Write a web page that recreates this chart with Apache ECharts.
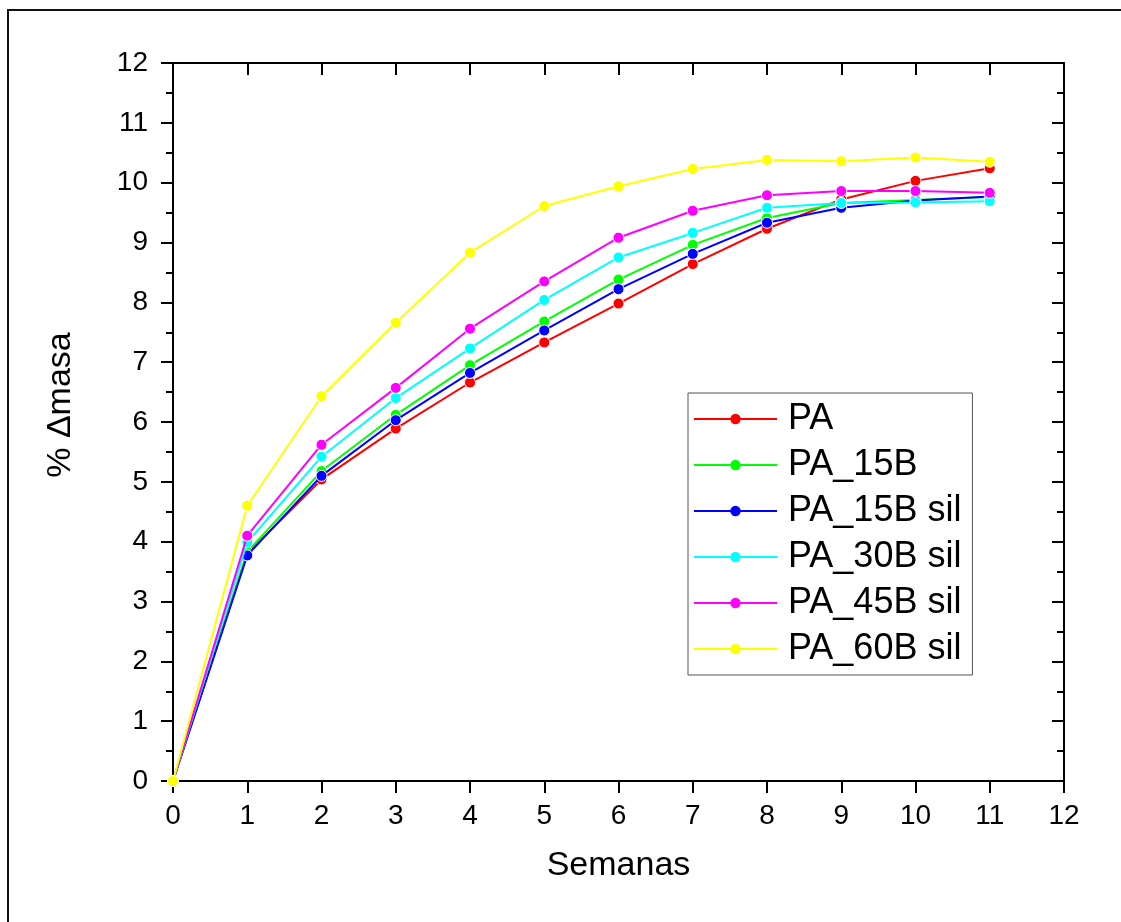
<!DOCTYPE html>
<html>
<head>
<meta charset="utf-8">
<script src="https://cdn.jsdelivr.net/npm/echarts@6/dist/echarts.min.js"></script>
<style>
html,body{margin:0;padding:0;background:#fff;}
#chart{width:1121px;height:922px;}
</style>
</head>
<body>
<div id="chart"></div>
<script>
var weeks = [0,1,2,3,4,5,6,7,8,9,10,11];
var seriesNames = ['PA','PA_15B','PA_15B sil','PA_30B sil','PA_45B sil','PA_60B sil'];
var seriesColors = ['#FF0000','#00FF00','#0000FF','#00FFFF','#FF00FF','#FFFF00'];
var PA        = [0, 3.80, 5.04, 5.89, 6.66, 7.33, 7.98, 8.64, 9.23, 9.72, 10.03, 10.24];
var PA_15B    = [0, 3.83, 5.18, 6.12, 6.95, 7.68, 8.38, 8.96, 9.41, 9.66, 9.71, 9.76];
var PA_15Bsil = [0, 3.77, 5.10, 6.03, 6.82, 7.53, 8.22, 8.81, 9.33, 9.58, 9.70, 9.77];
var PA_30Bsil = [0, 3.99, 5.42, 6.40, 7.23, 8.04, 8.75, 9.16, 9.58, 9.66, 9.67, 9.69];
var PA_45Bsil = [0, 4.10, 5.62, 6.57, 7.56, 8.35, 9.08, 9.53, 9.79, 9.86, 9.86, 9.83];
var PA_60Bsil = [0, 4.60, 6.43, 7.66, 8.83, 9.61, 9.94, 10.23, 10.38, 10.36, 10.42, 10.35];
var seriesValues = [PA, PA_15B, PA_15Bsil, PA_30Bsil, PA_45Bsil, PA_60Bsil];

var FONT = '"Liberation Sans", Arial, sans-serif';
var chart = echarts.init(document.getElementById('chart'));

var series = seriesNames.map(function(name, i){
  return {
    name: name,
    type: 'line',
    xAxisIndex: 0,
    yAxisIndex: 0,
    data: weeks.map(function(w, j){ return [w, seriesValues[i][j]]; }),
    symbol: 'circle',
    symbolSize: 11,
    showSymbol: true,
    color: seriesColors[i],
    lineStyle: {color: seriesColors[i], width: 2},
    itemStyle: {color: seriesColors[i], borderColor: '#ffffff', borderWidth: 1},
    animation: false,
    z: 2 + i
  };
});

var axisLine = {show: true, onZero: false, lineStyle: {color: '#000', width: 2}};

chart.setOption({
  backgroundColor: '#ffffff',
  animation: false,
  textStyle: {fontFamily: FONT},
  grid: {left: 173, top: 63, right: 57, bottom: 141, containLabel: false},
  legend: {
    left: 688, top: 393,
    orient: 'vertical',
    data: seriesNames,
    itemWidth: 83,
    itemHeight: 13,
    itemGap: 10,
    padding: [8, 11, 8, 5],
    borderColor: '#555',
    borderWidth: 1,
    backgroundColor: '#fff',
    textStyle: {fontFamily: FONT, fontSize: 36, color: '#000', lineHeight: 36, padding: [0,0,0,6]},
    itemStyle: {borderWidth: 0}
  },
  xAxis: [{
    type: 'value', position: 'bottom', min: 0, max: 12, interval: 1,
    name: 'Semanas', nameLocation: 'middle', nameGap: 68,
    nameTextStyle: {fontFamily: FONT, fontSize: 34, color: '#000'},
    axisLine: axisLine,
    axisTick: {show: true, inside: false, length: 12, lineStyle: {color: '#000', width: 2}},
    axisLabel: {show: true, margin: 21, fontFamily: FONT, fontSize: 28, color: '#000'},
    splitLine: {show: false}
  }, {
    type: 'value', position: 'top', min: 0, max: 12, interval: 1,
    axisLine: axisLine,
    axisTick: {show: true, inside: true, length: 12, lineStyle: {color: '#000', width: 2}},
    axisLabel: {show: false},
    splitLine: {show: false}
  }],
  yAxis: [{
    type: 'value', position: 'left', min: 0, max: 12, interval: 1,
    name: '% \u0394masa', nameLocation: 'middle', nameGap: 95,
    nameTextStyle: {fontFamily: FONT, fontSize: 34, color: '#000', padding: [0,0,0,34]},
    axisLine: axisLine,
    axisTick: {show: true, inside: false, length: 12, lineStyle: {color: '#000', width: 2}},
    minorTick: {show: true, splitNumber: 2, length: 7, lineStyle: {color: '#000', width: 2}},
    axisLabel: {show: true, margin: 25, fontFamily: FONT, fontSize: 28, color: '#000'},
    splitLine: {show: false},
    minorSplitLine: {show: false}
  }, {
    type: 'value', position: 'right', min: 0, max: 12, interval: 1,
    axisLine: axisLine,
    axisTick: {show: true, inside: true, length: 12, lineStyle: {color: '#000', width: 2}},
    minorTick: {show: true, splitNumber: 2, length: 7, lineStyle: {color: '#000', width: 2}},
    axisLabel: {show: false},
    splitLine: {show: false},
    minorSplitLine: {show: false}
  }],
  graphic: [{
    type: 'rect', silent: true, z: 0,
    shape: {x: 8, y: 10, width: 1300, height: 1100},
    style: {fill: 'none', stroke: '#111', lineWidth: 2}
  }],
  series: series
});
</script>
</body>
</html>
